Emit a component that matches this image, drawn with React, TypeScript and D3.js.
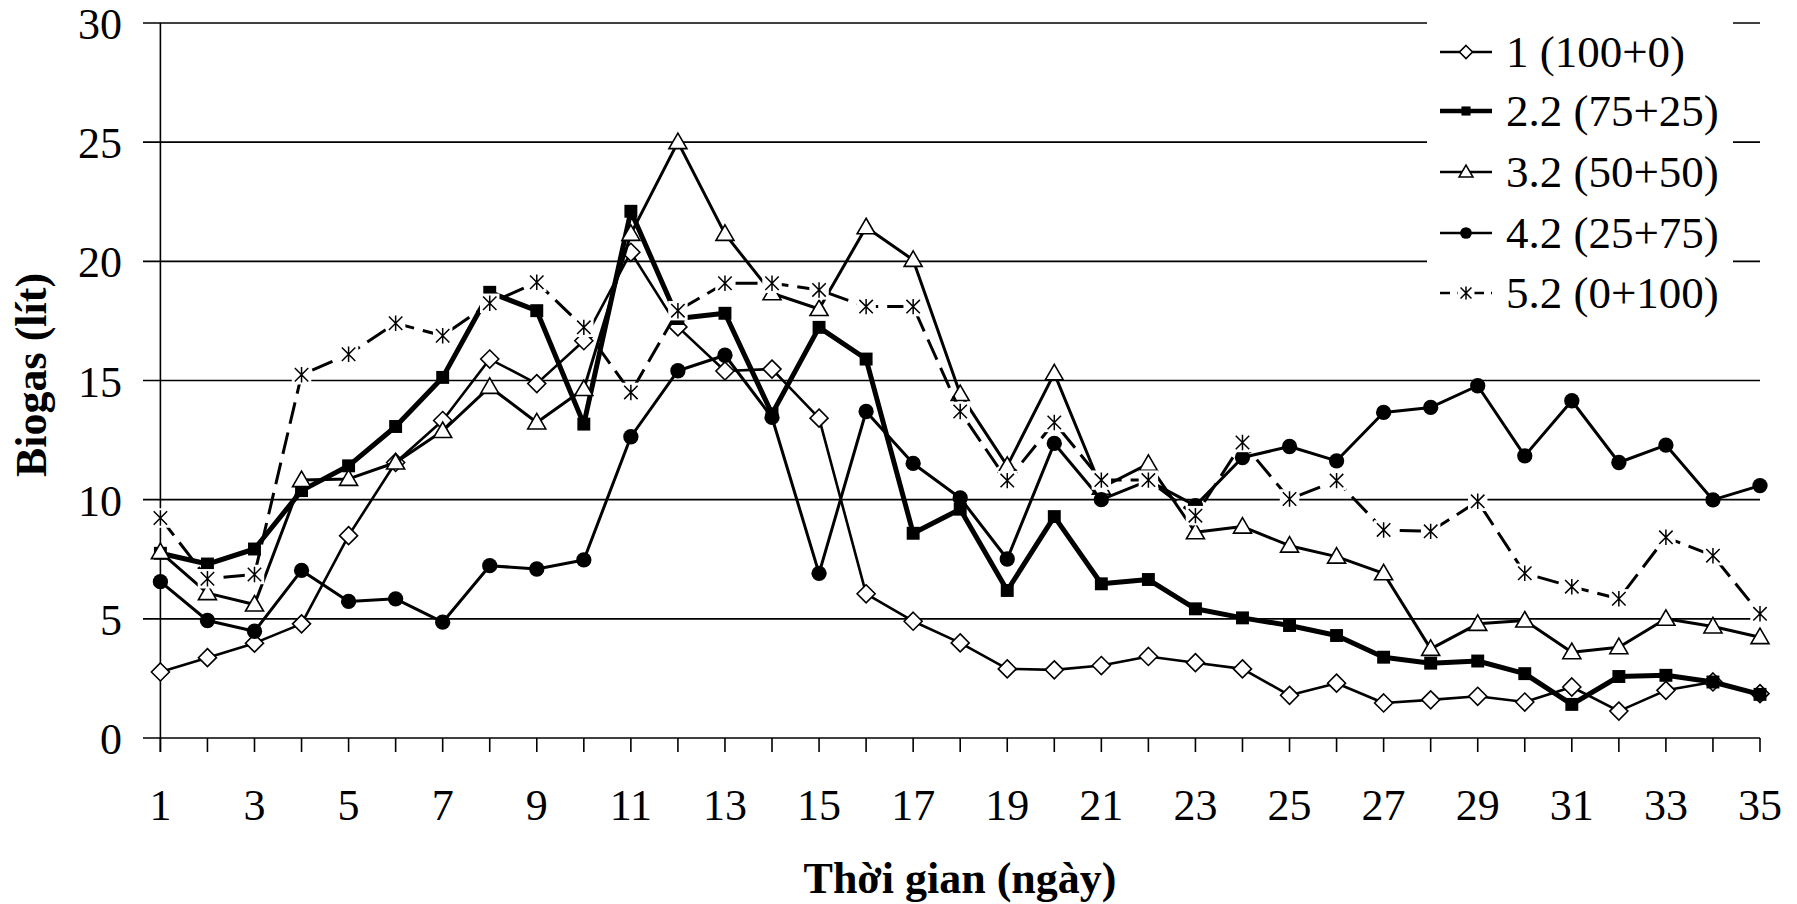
import React from 'react';
import * as d3 from 'd3';

// ngày 1..35
const days = d3.range(1, 36);
const yTicks = [0, 5, 10, 15, 20, 25, 30];

const s1 = [2.77, 3.37, 3.98, 4.79, 8.49, 11.56, 13.32, 15.9, 14.87, 16.67, 20.38, 17.25, 15.4, 15.48, 13.42, 6.05, 4.9, 3.99, 2.9, 2.86, 3.04, 3.42, 3.16, 2.9, 1.79, 2.3, 1.47, 1.6, 1.75, 1.51, 2.14, 1.13, 2.0, 2.35, 1.86];
const s2 = [7.75, 7.3, 7.93, 10.38, 11.42, 13.07, 15.13, 18.7, 17.93, 13.17, 22.1, 17.6, 17.82, 13.6, 17.23, 15.9, 8.59, 9.6, 6.19, 9.29, 6.47, 6.65, 5.42, 5.04, 4.72, 4.3, 3.39, 3.14, 3.23, 2.7, 1.41, 2.58, 2.63, 2.35, 1.83];
const s3 = [7.8, 6.08, 5.6, 10.82, 10.87, 11.56, 12.88, 14.73, 13.24, 14.64, 21.15, 25.0, 21.15, 18.66, 18.0, 21.43, 20.06, 14.43, 11.42, 15.3, 10.5, 11.5, 8.63, 8.87, 8.07, 7.61, 6.91, 3.74, 4.79, 4.93, 3.6, 3.81, 5.0, 4.68, 4.23];
const s4 = [6.56, 4.93, 4.48, 7.03, 5.73, 5.84, 4.86, 7.23, 7.09, 7.47, 12.64, 15.41, 16.06, 13.45, 6.91, 13.7, 11.52, 10.07, 7.51, 12.36, 10.0, 10.8, 9.75, 11.77, 12.23, 11.63, 13.66, 13.87, 14.78, 11.84, 14.15, 11.56, 12.29, 9.99, 10.59];
const s5 = [9.23, 6.68, 6.86, 15.24, 16.1, 17.4, 16.88, 18.24, 19.12, 17.23, 14.5, 17.93, 19.08, 19.08, 18.8, 18.1, 18.1, 13.7, 10.8, 13.24, 10.82, 10.82, 9.33, 12.4, 10.03, 10.8, 8.73, 8.67, 9.93, 6.91, 6.35, 5.84, 8.42, 7.65, 5.21];

const seriesNames = ['1 (100+0)', '2.2 (75+25)', '3.2 (50+50)', '4.2 (25+75)', '5.2 (0+100)'];
const seriesValues = [s1, s2, s3, s4, s5];

const W = 1797;
const H = 904;
const font = '"Liberation Serif", "Times New Roman", serif';

const x = d3.scaleLinear().domain([1, 35]).range([160.4, 1760]);
const y = d3.scaleLinear().domain([0, 30]).range([738, 23]);

const styles = [
  { marker: 'diamond', width: 2.6, dash: null, size: 18 },
  { marker: 'square', width: 5, dash: null, size: 17 },
  { marker: 'triangle', width: 3, dash: null, size: 17 },
  { marker: 'circle', width: 3, dash: null, size: 17 },
  { marker: 'star', width: 3, dash: '22 9', size: 16 },
];

function Marker({ type, cx, cy, s }: { type: string; cx: number; cy: number; s: number }) {
  if (type === 'diamond') {
    const r = s * 0.5;
    return <path d={`M${cx},${cy - r}L${cx + r},${cy}L${cx},${cy + r}L${cx - r},${cy}Z`} fill="#fff" stroke="#000" strokeWidth={1.6} />;
  }
  if (type === 'square') {
    const r = s * 0.38;
    return <rect x={cx - r} y={cy - r} width={2 * r} height={2 * r} fill="#000" />;
  }
  if (type === 'triangle') {
    const r = s * 0.53;
    return <path d={`M${cx},${cy - r}L${cx + r},${cy + r * 0.72}L${cx - r},${cy + r * 0.72}Z`} fill="#fff" stroke="#000" strokeWidth={1.6} />;
  }
  if (type === 'circle') {
    return <circle cx={cx} cy={cy} r={s * 0.45} fill="#000" />;
  }
  const r = s * 0.42;
  return (
    <g>
      <rect x={cx - r - 3} y={cy - r - 3} width={2 * r + 6} height={2 * r + 6} fill="#fff" />
      <path d={`M${cx - r},${cy - r}L${cx + r},${cy + r}M${cx + r},${cy - r}L${cx - r},${cy + r}M${cx},${cy - r - 1}L${cx},${cy + r + 1}`} stroke="#000" strokeWidth={1.5} fill="none" />
    </g>
  );
}

export default function App() {
  const line = d3.line<number>()
    .x((_, i) => x(days[i]))
    .y(d => y(d));

  const legendY = [52, 111, 172, 233, 293];

  return (
    <div style={{ position: 'absolute', left: 0, top: 0 }}>
      <svg width={W} height={H} style={{ background: '#fff', display: 'block' }} fontFamily={font}>
        {/* gridlines + ticks */}
        {yTicks.map(t => (
          <line key={t} x1={143} x2={1760} y1={y(t)} y2={y(t)} stroke="#000" strokeWidth={1.6} />
        ))}
        <line x1={x(1)} x2={x(1)} y1={y(30)} y2={y(0) + 14} stroke="#000" strokeWidth={1.6} />
        {days.map(d => (
          <line key={d} x1={x(d)} x2={x(d)} y1={y(0)} y2={y(0) + 14} stroke="#000" strokeWidth={1.6} />
        ))}
        {yTicks.map(t => (
          <text key={t} x={122} y={y(t) + 16} textAnchor="end" fontSize={44}>{t}</text>
        ))}
        {days.filter(d => d % 2 === 1).map(d => (
          <text key={d} x={x(d)} y={820} textAnchor="middle" fontSize={44}>{d}</text>
        ))}

        {/* series */}
        {seriesValues.map((vals, si) => (
          <g key={si}>
            <path d={line(vals) || ''} fill="none" stroke="#000" strokeWidth={styles[si].width}
              strokeDasharray={styles[si].dash || undefined} strokeLinejoin="round" />
            {vals.map((v, i) => (
              <Marker key={i} type={styles[si].marker} cx={x(days[i])} cy={y(v)} s={styles[si].size} />
            ))}
          </g>
        ))}

        {/* legend */}
        <rect x={1427} y={8} width={306} height={322} fill="#fff" />
        {seriesNames.map((name, i) => (
          <g key={name}>
            <line x1={1440} x2={1492} y1={legendY[i]} y2={legendY[i]} stroke="#000"
              strokeWidth={i === 1 ? 4.5 : 2.4} strokeDasharray={i === 4 ? '10 7' : undefined} />
            <Marker type={styles[i].marker} cx={1466} cy={legendY[i]} s={i === 1 ? 12 : 13} />
            <text x={1506} y={legendY[i] + 15} fontSize={45}>{name}</text>
          </g>
        ))}

        {/* axis titles */}
        <text x={960} y={893} textAnchor="middle" fontSize={44} fontWeight="bold">Thời gian (ngày)</text>
        <text transform={`translate(46,${375}) rotate(-90)`} textAnchor="middle" fontSize={44} fontWeight="bold">Biogas (lít)</text>
      </svg>
    </div>
  );
}
